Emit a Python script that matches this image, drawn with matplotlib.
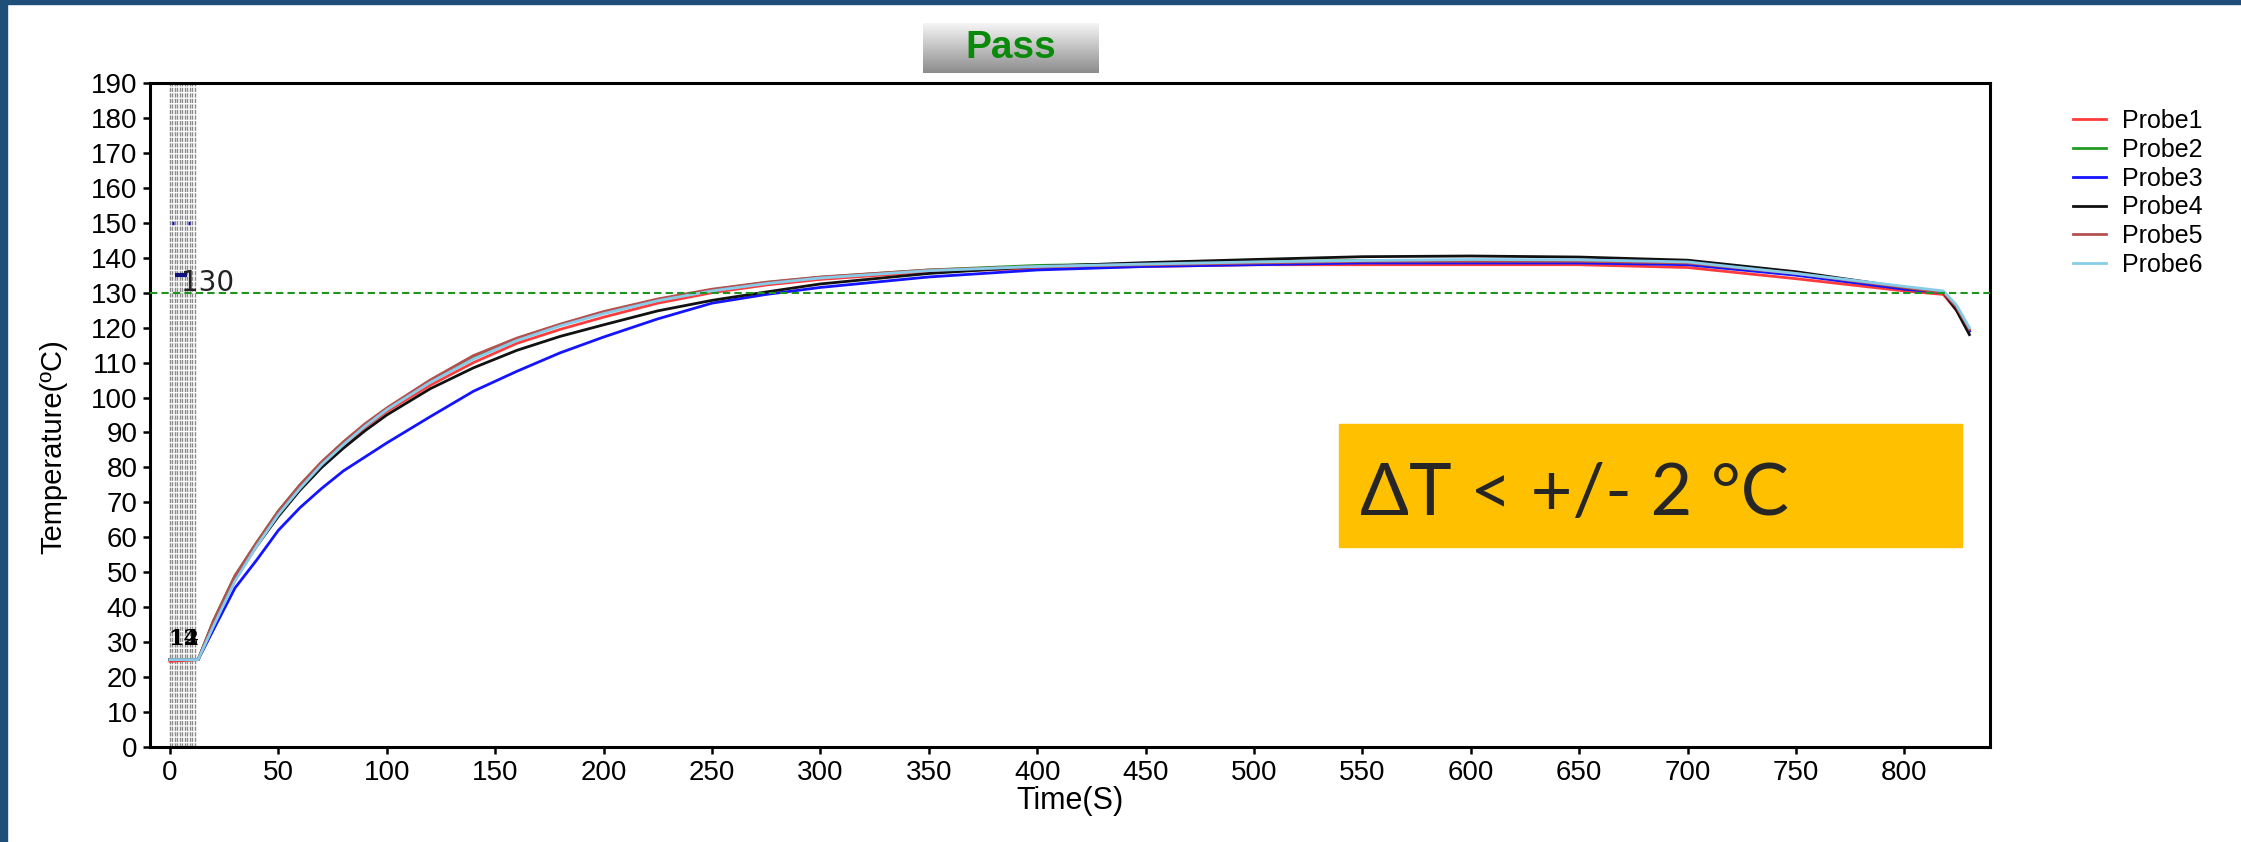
import matplotlib.pyplot as plt
import numpy as np
from matplotlib.patches import Rectangle

time_s = [0, 13, 20, 30, 40, 50, 60, 70, 80, 90, 100, 120, 140, 160, 180, 200, 225,
          250, 275, 300, 350, 400, 450, 500, 550, 600, 650, 700, 750, 800, 818, 824, 830]

probe1 = [24.5, 25, 35.5, 48.5, 58, 66.5, 74, 80.5, 86, 91.5, 96, 103.5, 110, 115.5, 119.5, 123, 127,
          130, 132.2, 133.8, 136, 137, 137.5, 138, 138, 138, 138, 137.2, 134, 130.5, 129.5, 125, 119]
probe2 = [25, 25, 36, 49, 58.5, 67.5, 75, 81.5, 87.2, 92.3, 96.8, 104.8, 111.8, 116.8, 120.8, 124.4, 128,
          130.8, 132.9, 134.4, 136.5, 137.8, 138.3, 138.8, 139.2, 139.2, 139, 138.5, 135.5, 131.3, 130, 126, 119]
probe3 = [25, 25, 33.5, 45.5, 53.5, 62, 68.5, 74, 79, 83, 87, 94.5, 101.8, 107.5, 112.8, 117.3, 122.5,
          127, 129.5, 131.5, 134.5, 136.5, 137.5, 138, 138.5, 138.5, 138.5, 138, 135, 131, 130, 126, 119]
probe4 = [25, 25, 35, 48, 57.5, 66, 73.5, 80, 85.5, 90.5, 95, 102.5, 108.5, 113.5, 117.5, 120.8, 124.8,
          127.8, 130.2, 132.5, 135.5, 137.5, 138.6, 139.5, 140.3, 140.5, 140.2, 139.3, 136, 131.5, 130, 125, 118]
probe5 = [25, 25, 36, 49, 58.5, 67.5, 75, 81.6, 87.3, 92.5, 97, 105, 112, 117, 121, 124.6, 128.2,
          131, 133, 134.5, 136.5, 137.5, 138, 138.5, 139, 139, 139, 138.5, 135.5, 131.5, 130, 126, 119.5]
probe6 = [25, 25, 34.5, 47.5, 57.5, 66.5, 74, 80.8, 86.5, 91.8, 96.5, 104.3, 111, 116.3, 120.5, 124, 127.7,
          130.5, 132.6, 134.2, 136.3, 137.5, 138.2, 138.8, 139.2, 139.5, 139.4, 138.8, 135.5, 131.8, 130.5, 126.5, 120]

probe_names = ["Probe1", "Probe2", "Probe3", "Probe4", "Probe5", "Probe6"]
probe_colors = ["#ff3b3b", "#229a22", "#1414ff", "#111111", "#b5504f", "#87cdea"]

limit_temp = 130
event_times = [0, 1.15, 2.3, 3.45, 4.6, 5.75, 6.9, 8.05, 9.2, 10.35, 11.5]
x_ticks = np.arange(0, 801, 50)
y_ticks = np.arange(0, 191, 10)

W, H = 2241, 842


def draw_chart():
    plt.rcParams['font.family'] = ['Liberation Sans', 'DejaVu Sans']
    fig = plt.figure(figsize=(W / 100, H / 100), dpi=100)

    # blue slide border (left and top)
    fig.patches.append(Rectangle((0, 0), 7 / W, 1, transform=fig.transFigure,
                                 color="#1f4e79", zorder=0))
    fig.patches.append(Rectangle((0, 1 - 4 / H), 1, 4 / H, transform=fig.transFigure,
                                 color="#1f4e79", zorder=0))

    ax = fig.add_axes([150 / W, 1 - 747 / H, 1840 / W, 664 / H])
    for t in event_times:
        ax.axvline(t, color="#8a8a8a", lw=1.0, ls=(0, (3, 1)), zorder=1)

    probes = [probe1, probe2, probe3, probe4, probe5, probe6]
    for vals, name, c in zip(probes, probe_names, probe_colors):
        ax.plot(time_s, vals, color=c, lw=2.0, label=name, zorder=3)

    ax.axhline(limit_temp, color="#1e961e", lw=1.5, ls=(0, (3.5, 2)), zorder=4)

    # markers near the start
    ax.plot([0.8, 2.0], [150, 150], color="#1010c0", lw=2.5, solid_capstyle='butt')
    ax.plot([8.2, 9.4], [150, 150], color="#1010c0", lw=2.5, solid_capstyle='butt')
    ax.plot([2.3, 7.8], [135, 135], color="#101080", lw=3, solid_capstyle='butt', zorder=5)
    ax.text(5.2, 132.8, "130", fontsize=20, family='DejaVu Sans', color="#222222",
            ha='left', va='center', zorder=6)
    for s in ["12", "14"]:
        ax.text(-0.8, 31, s, fontsize=16, family='DejaVu Serif', fontweight='bold',
                color="black", ha='left', va='center', zorder=6)

    ax.set_xlim(-9.2, 839.5)
    ax.set_ylim(0, 190)
    ax.set_xticks(x_ticks)
    ax.set_yticks(y_ticks)
    ax.tick_params(axis='both', labelsize=20, length=5, width=1.8, pad=4, direction='out')
    for sp in ax.spines.values():
        sp.set_linewidth(2.2)
    ax.set_xlabel("Time(S)", fontsize=22, labelpad=0)
    ax.set_ylabel("Temperature(ºC)", fontsize=21)
    ax.yaxis.set_label_coords(-0.045, 0.453)

    fig.legend(loc='upper left', bbox_to_anchor=(2073 / W, 1 - 109 / H), frameon=False,
               fontsize=18, handlelength=1.3, handletextpad=0.65, labelspacing=0.19,
               borderpad=0, borderaxespad=0)

    # "Pass" button
    bax = fig.add_axes([923 / W, 1 - 73 / H, 176 / W, 50 / H])
    grad = np.linspace(0.96, 0.55, 60)[:, None]
    bax.imshow(grad, aspect='auto', cmap='gray', vmin=0, vmax=1, extent=[0, 1, 0, 1])
    bax.text(0.5, 0.5, "Pass", color="#0a8a0a", fontsize=28, fontweight='bold',
             ha='center', va='center', transform=bax.transAxes)
    bax.axis('off')

    # yellow note box
    fig.patches.append(Rectangle((1339 / W, 1 - 547 / H), 623 / W, 123 / H,
                                 transform=fig.transFigure, color="#ffc000", zorder=5))
    fig.text(1360 / W, 1 - 494 / H, "ΔT < +/- 2 °C", fontsize=52, family=['Lato', 'DejaVu Sans'],
             color="#262626", ha='left', va='center', zorder=6)

    fig.savefig("out.png", dpi=100)


if __name__ == '__main__':
    draw_chart()
